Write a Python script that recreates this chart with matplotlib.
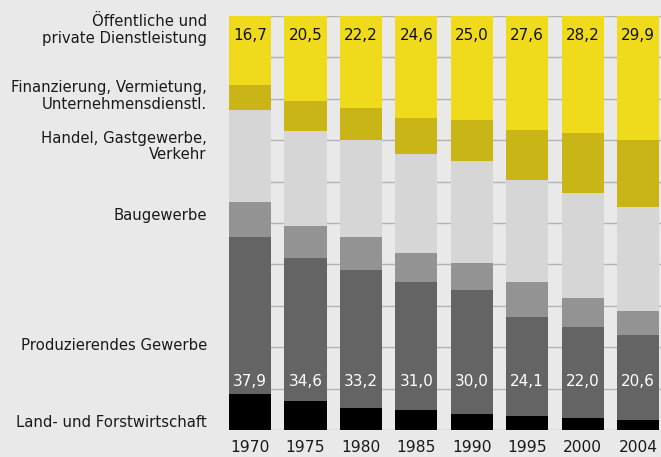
# -*- coding: utf-8 -*-

"""
Erwerbstätige nach Wirtschaftsbereichen 1970-2004 (Anteile in %)
Gestapeltes Säulendiagramm
"""

import matplotlib
matplotlib.use('Agg')
import matplotlib.pyplot as plt
import numpy as np


# Daten (von unten nach oben gestapelt)
lstYears = ['1970', '1975', '1980', '1985', '1990', '1995', '2000', '2004']
lstLand = [8.8, 6.9, 5.4, 4.8, 3.8, 3.3, 3.0, 2.3]
lstProd = [37.9, 34.6, 33.2, 31.0, 30.0, 24.1, 22.0, 20.6]
lstBau = [8.4, 7.8, 8.1, 7.0, 6.6, 8.4, 7.0, 5.8]
lstHandel = [22.2, 22.9, 23.3, 23.9, 24.6, 24.7, 25.3, 25.2]
lstFinanz = [6.0, 7.3, 7.8, 8.7, 10.0, 11.9, 14.5, 16.2]
lstOeff = [16.7, 20.5, 22.2, 24.6, 25.0, 27.6, 28.2, 29.9]

lstSectorNames = [
	'Land- und Forstwirtschaft',
	'Produzierendes Gewerbe',
	'Baugewerbe',
	'Handel, Gastgewerbe,\nVerkehr',
	'Finanzierung, Vermietung,\nUnternehmensdienstl.',
	'Öffentliche und\nprivate Dienstleistung',
]

# Farben und Positionen der Beschriftungen links
lstColors = ['#000000', '#646464', '#939393', '#d6d6d6', '#c9b516', '#f0da1c']
lstNameY = [1.7, 20.4, 51.7, 68.4, 80.7, 96.6]

sBg = '#e9e9e9'
plt.rcParams['font.family'] = ['DejaVu Sans']

fig = plt.figure(figsize=(6.61, 4.57), dpi=100, facecolor=sBg)
ax = fig.add_axes([229 / 661, 27 / 457, 432 / 661, 414 / 457])
ax.set_facecolor(sBg)

x = np.arange(len(lstYears))
fWidth = 0.76
arrBottom = np.zeros(len(lstYears))
lstSeries = [lstLand, lstProd, lstBau, lstHandel, lstFinanz, lstOeff]
for lstVals, sColor in zip(lstSeries, lstColors):
	arrVals = np.array(lstVals)
	ax.bar(x, arrVals, fWidth, bottom=arrBottom, color=sColor, linewidth=0, zorder=2)
	arrBottom += arrVals

# Werte in den Säulen
for i in range(len(lstYears)):
	ax.text(x[i], 95.4, f'{lstOeff[i]:.1f}'.replace('.', ','), ha='center', va='center',
		fontsize=11, color='#111111', zorder=3)
	ax.text(x[i], 11.6, f'{lstProd[i]:.1f}'.replace('.', ','), ha='center', va='center',
		fontsize=11, color='white', zorder=3)

# Bereichsnamen links
for sName, fY in zip(lstSectorNames, lstNameY):
	ax.text(-0.38 - 0.4, fY, sName, ha='right', va='center', fontsize=10.7,
		color='#1a1a1a', linespacing=1.1, transform=ax.transData, clip_on=False)

ax.set_xlim(-0.38, 7.415)
ax.set_ylim(0, 100)
ax.set_yticks(np.arange(0, 101, 10))
ax.yaxis.grid(True, color='#b4b4b4', linewidth=1.0, zorder=0)
ax.set_axisbelow(True)
ax.set_yticklabels([])
ax.tick_params(axis='y', length=0)
ax.set_xticks(x)
ax.set_xticklabels(lstYears, fontsize=11.2, color='#1a1a1a')
ax.tick_params(axis='x', length=0, pad=7)
for sSide in ['top', 'right', 'bottom', 'left']:
	ax.spines[sSide].set_visible(False)

plt.savefig('out.png', dpi=100, facecolor=sBg)
plt.close(fig)
